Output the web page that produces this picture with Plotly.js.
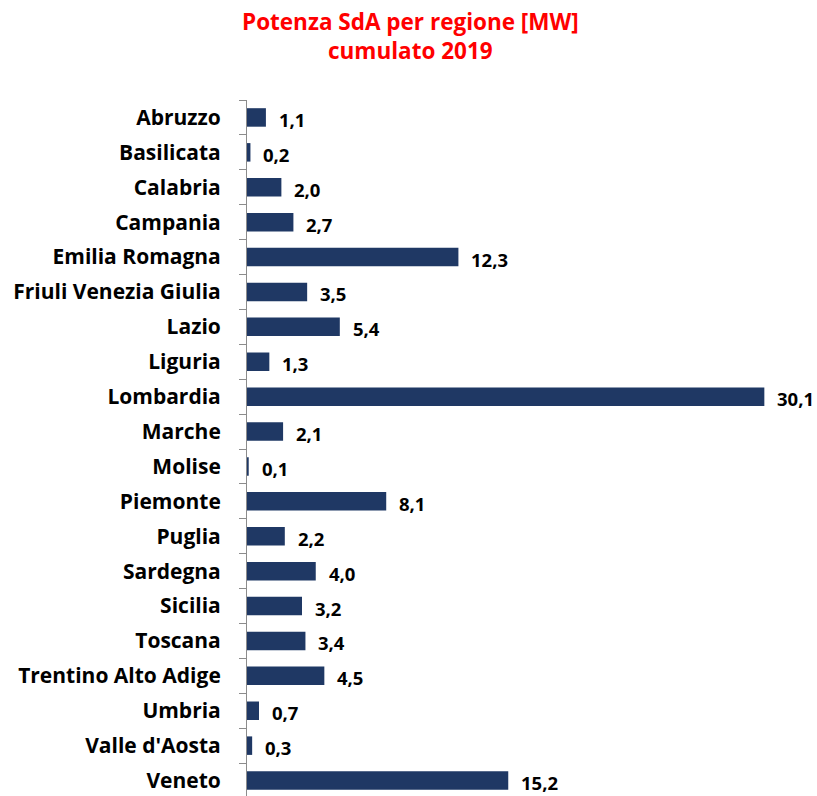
<!DOCTYPE html>
<html>
<head>
<meta charset="utf-8">
<script src="https://cdn.plot.ly/plotly-3.0.1.min.js"></script>
<style>html,body{margin:0;padding:0;overflow:hidden;background:#fff}</style>
</head>
<body>
<div id="chart"></div>
<script>
const regions = ["Abruzzo","Basilicata","Calabria","Campania","Emilia Romagna","Friuli Venezia Giulia","Lazio","Liguria","Lombardia","Marche","Molise","Piemonte","Puglia","Sardegna","Sicilia","Toscana","Trentino Alto Adige","Umbria","Valle d'Aosta","Veneto"];
const values = [1.1,0.2,2.0,2.7,12.3,3.5,5.4,1.3,30.1,2.1,0.1,8.1,2.2,4.0,3.2,3.4,4.5,0.7,0.3,15.2];
const valueLabels = values.map(v => v.toFixed(1).replace('.', ','));
const titleLines = ["Potenza SdA per regione [MW]", "cumulato 2019"];

const FONT = "'Open Sans', sans-serif";

const trace = {
  type: 'bar',
  orientation: 'h',
  y: regions,
  x: values,
  marker: {color: '#1F3864', line: {width: 0}},
  width: 0.53,
  hoverinfo: 'none'
};

const annotations = regions.map((r, i) => ({
  x: values[i], y: r, xref: 'x', yref: 'y',
  text: '<b>' + valueLabels[i] + '</b>',
  showarrow: false, xanchor: 'left', yanchor: 'middle',
  xshift: 11, yshift: -2,
  font: {family: FONT, size: 18.5, color: '#000'}
}));

annotations.push({
  xref: 'paper', yref: 'paper', x: 0.298, y: 1,
  xanchor: 'center', yanchor: 'bottom', yshift: 32,
  showarrow: false,
  text: '<b>' + titleLines.join('<br>') + '</b>',
  font: {family: FONT, size: 22.5, color: '#FF0000'}
});

const layout = {
  width: 817, height: 810,
  margin: {l: 247, r: 20, t: 100, b: 12},
  paper_bgcolor: '#fff', plot_bgcolor: '#fff',
  showlegend: false,
  xaxis: {
    range: [0, 32], visible: false, showgrid: false, zeroline: false, fixedrange: true
  },
  yaxis: {
    type: 'category', autorange: 'reversed',
    showline: true, linecolor: '#8c8c8c', linewidth: 1,
    ticks: 'outside', tickson: 'boundaries', ticklen: 7, tickcolor: '#8c8c8c', tickwidth: 1,
    ticklabelstandoff: 21,
    tickfont: {family: FONT, size: 21, color: '#000', weight: 'bold'},
    showgrid: false, zeroline: false, fixedrange: true
  },
  annotations: annotations
};

Plotly.newPlot('chart', [trace], layout, {displayModeBar: false, staticPlot: true});
</script>
</body>
</html>
